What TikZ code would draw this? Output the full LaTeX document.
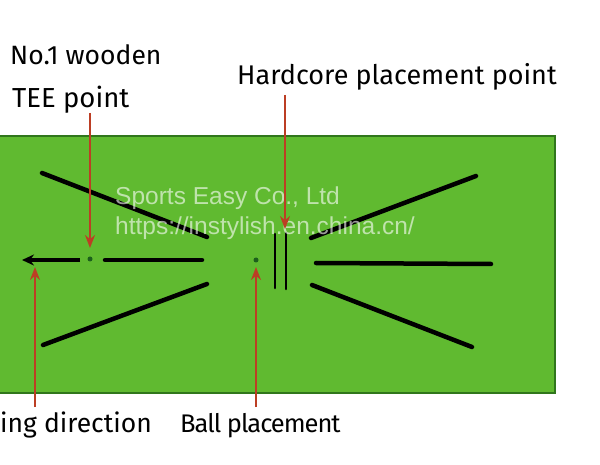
\documentclass[tikz,border=0pt]{standalone}
\usepackage{fontspec}
\setmainfont{Fira Sans}
\newfontfamily\wmfont{Liberation Sans}
\newfontfamily\tightfont[LetterSpace=-4]{Fira Sans}
\usetikzlibrary{arrows.meta}
\definecolor{mat}{RGB}{96,186,48}
\definecolor{matdark}{RGB}{48,118,28}
\definecolor{arrowred}{RGB}{188,62,36}
\definecolor{dotgreen}{RGB}{28,96,28}
\begin{document}
\begin{tikzpicture}[x=1pt,y=-1pt,
  lbl/.style={inner sep=0pt, anchor=base west, font=\fontsize{26.5}{30}\selectfont, text=black},
  wm/.style={inner sep=0pt, anchor=base west, font=\wmfont\fontsize{24.5}{28}\selectfont, text=white, text opacity=0.6},
  redarrow/.style={draw=arrowred, line width=2pt, -{Stealth[length=13pt,width=10pt]}},
  markline/.style={draw=black, line width=4.5pt, line cap=round},
  dot/.style={circle, fill=dotgreen, inner sep=0pt, minimum size=5pt}
]
\useasboundingbox (0,0) rectangle (600,465);
\fill[white] (0,0) rectangle (600,465);
% mat
\fill[mat] (0,136) rectangle (555,393);
\draw[matdark, line width=1.5pt] (0,136) -- (555,136) -- (555,393) -- (0,393);

% black guide lines
\coordinate (ul1) at (42,173);  \coordinate (ul2) at (207,237);
\coordinate (ll1) at (43,345);  \coordinate (ll2) at (207,284);
\coordinate (ur1) at (311,238); \coordinate (ur2) at (476,176);
\coordinate (rm1) at (316,263); \coordinate (rm2) at (491,264);
\coordinate (lr1) at (312,285); \coordinate (lr2) at (472,347);
\coordinate (v1a) at (275,234); \coordinate (v1b) at (275,288);
\coordinate (v2a) at (286,233); \coordinate (v2b) at (286,289);
\coordinate (sw1) at (80,260);  \coordinate (sw2) at (22,260);
\coordinate (sd1) at (105,260); \coordinate (sd2) at (202,260);
\draw[markline] (ul1) -- (ul2);
\draw[markline] (ll1) -- (ll2);
\draw[markline] (ur1) -- (ur2);
\draw[markline] (rm1) -- (rm2);
\draw[markline] (lr1) -- (lr2);
\draw[draw=black, line width=2.6pt, line cap=round] (v1a) -- (v1b);
\draw[draw=black, line width=2.6pt, line cap=round] (v2a) -- (v2b);
\draw[draw=black, line width=4.5pt, -{Stealth[length=12pt,width=11pt]}] (sw1) -- (sw2);
\draw[markline] (sd1) -- (sd2);

% dots
\node[dot] (teedot) at (90,259) {};
\node[dot] (balldot) at (256,260) {};

% watermark
\node[wm] (wm1) at (115,205) {Sports Easy Co., Ltd};
\node[wm] (wm2) at (115,235) {https://instylish.en.china.cn/};

% labels
\node[lbl] (no1) at (10,65) {No.1 wooden};
\node[lbl, font=\fontsize{27.5}{30}\selectfont] (tee) at (12,108) {TEE point};
\node[lbl, font=\fontsize{27}{30}\selectfont] (hard) at (237,85) {Hardcore placement point};
\node[lbl] (swing) at (0,432) {ing direction};
\node[lbl, font=\tightfont\fontsize{25.5}{30}\selectfont] (ball) at (180,432) {Ball placement};

% red arrows
\coordinate (teeS) at (90,113);  \coordinate (teeE) at (90,248);
\coordinate (hardS) at (285,95); \coordinate (hardE) at (285,229);
\coordinate (swS) at (35,407);   \coordinate (swE) at (35,267);
\coordinate (ballS) at (256,407);\coordinate (ballE) at (256,267);
\draw[redarrow] (teeS) -- (teeE);
\draw[redarrow] (hardS) -- (hardE);
\draw[redarrow] (swS) -- (swE);
\draw[redarrow] (ballS) -- (ballE);
\end{tikzpicture}
\end{document}
